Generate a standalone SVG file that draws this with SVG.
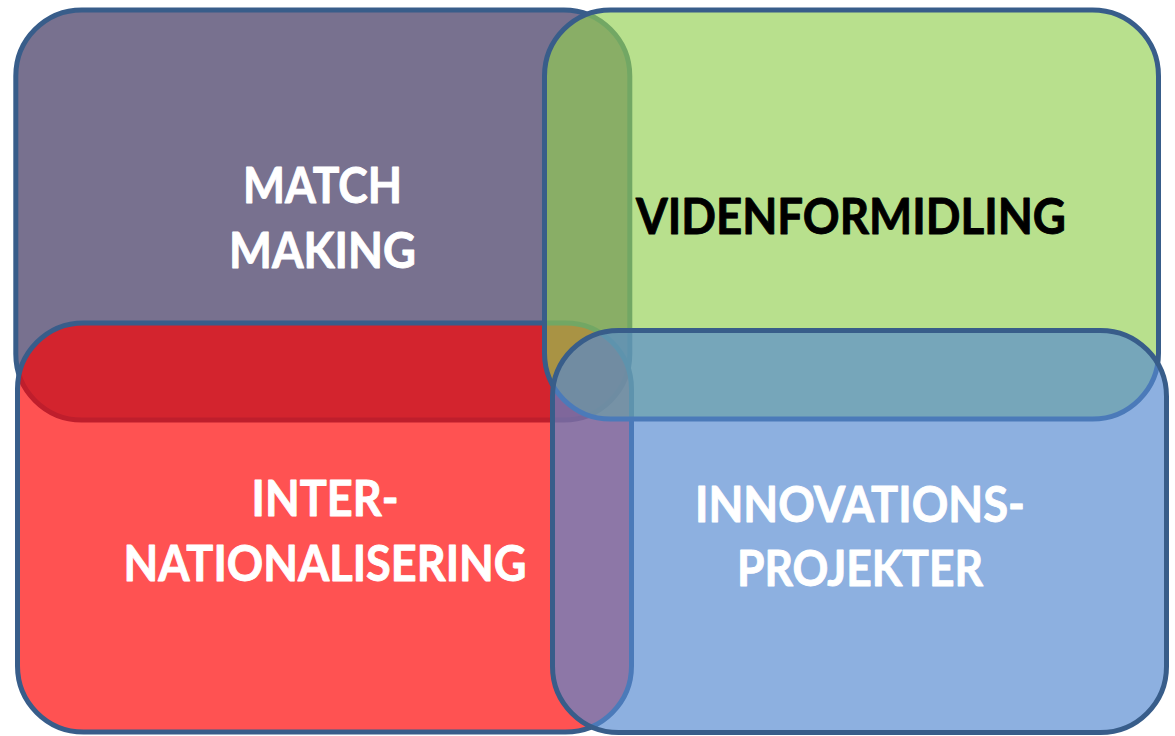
<svg xmlns="http://www.w3.org/2000/svg" width="1175" height="736" viewBox="0 0 1175 736">
<style>
.box{stroke:#385D8A;stroke-width:5}
.t{font-family:Lato,"Open Sans","Liberation Sans",sans-serif;font-weight:bold;font-size:49px;text-anchor:middle;stroke-width:0.9;stroke-linejoin:round}
.w{fill:#FFFFFF;stroke:#FFFFFF}
.k{fill:#000000;stroke:#000000}
</style>
<rect width="1175" height="736" fill="#FFFFFF"/>
<g id="match-making">
<rect class="box" x="15.8" y="10" width="614" height="410" rx="66" ry="66" fill="#78718F"/>
<text class="t w" x="322.5" y="203.3" textLength="159" lengthAdjust="spacingAndGlyphs">MATCH</text>
<text class="t w" x="322.5" y="268.3" textLength="187" lengthAdjust="spacingAndGlyphs">MAKING</text>
</g>
<g id="internationalisering">
<rect class="box" x="17.5" y="323" width="614" height="409" rx="66" ry="66" fill="#FF0000" fill-opacity="0.68"/>
<text class="t w" x="325" y="515.5" textLength="147" lengthAdjust="spacingAndGlyphs">INTER-</text>
<text class="t w" x="325" y="581" textLength="403" lengthAdjust="spacingAndGlyphs">NATIONALISERING</text>
</g>
<g id="videnformidling">
<rect class="box" x="544.5" y="10" width="614" height="409" rx="66" ry="66" fill="#92D050" fill-opacity="0.65"/>
<text class="t k" x="851" y="233.5" textLength="430" lengthAdjust="spacingAndGlyphs">VIDENFORMIDLING</text>
</g>
<g id="innovationsprojekter">
<rect class="box" x="552.5" y="330.5" width="614" height="402" rx="66" ry="66" fill="#5589D1" fill-opacity="0.67"/>
<text class="t w" x="860" y="521.5" textLength="330" lengthAdjust="spacingAndGlyphs">INNOVATIONS-</text>
<text class="t w" x="860" y="586" textLength="246" lengthAdjust="spacingAndGlyphs">PROJEKTER</text>
</g>
<g id="connectors"></g>
</svg>
